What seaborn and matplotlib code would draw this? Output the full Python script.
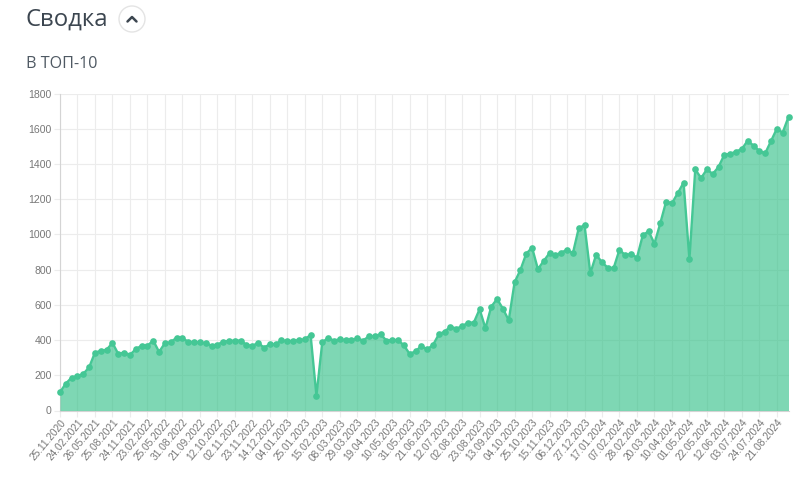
"""
Сводка: number of keywords in the TOP-10, area chart
"""

import matplotlib
matplotlib.use("Agg")
import matplotlib.pyplot as plt
from matplotlib.lines import Line2D
from matplotlib.patches import Circle
import numpy as np
import pandas as pd
import seaborn as sns

# every third point carries a date label on the axis
tick_labels = [
    "25.11.2020", "24.02.2021", "26.05.2021", "25.08.2021", "24.11.2021", "23.02.2022",
    "25.05.2022", "31.08.2022", "21.09.2022", "12.10.2022", "02.11.2022", "23.11.2022",
    "14.12.2022", "04.01.2023", "25.01.2023", "15.02.2023", "08.03.2023", "29.03.2023",
    "19.04.2023", "10.05.2023", "31.05.2023", "21.06.2023", "12.07.2023", "02.08.2023",
    "23.08.2023", "13.09.2023", "04.10.2023", "25.10.2023", "15.11.2023", "06.12.2023",
    "27.12.2023", "17.01.2024", "07.02.2024", "28.02.2024", "20.03.2024", "10.04.2024",
    "01.05.2024", "22.05.2024", "12.06.2024", "03.07.2024", "24.07.2024", "21.08.2024",
]

top10 = [
    104, 153, 187, 195, 208, 245, 329, 338, 345, 384, 321, 329,
    316, 348, 368, 368, 397, 333, 382, 387, 414, 410, 391, 387,
    387, 382, 368, 374, 391, 395, 397, 397, 372, 367, 384, 357,
    376, 376, 398, 395, 395, 400, 404, 429, 84, 387, 412, 397,
    404, 400, 400, 410, 397, 421, 421, 434, 397, 400, 400, 370,
    321, 336, 366, 347, 372, 432, 448, 476, 465, 478, 499, 499,
    575, 467, 590, 633, 578, 512, 728, 798, 890, 925, 803, 849,
    894, 883, 896, 913, 892, 1034, 1053, 779, 885, 841, 811, 809,
    913, 881, 890, 868, 995, 1018, 947, 1063, 1186, 1177, 1234, 1294,
    858, 1369, 1320, 1369, 1343, 1383, 1453, 1457, 1470, 1485, 1532, 1504,
    1474, 1460, 1530, 1600, 1578, 1667,
]

y_ticks = list(range(0, 1801, 200))

LINE_COLOR = "#45c795"
FILL_COLOR = "#2fbf86"
TEXT_COLOR = "#777777"
GRID_COLOR = "#ececec"

sns.set_theme(style="white")
plt.rcParams["font.family"] = ["Liberation Sans", "DejaVu Sans"]

df = pd.DataFrame({"point": np.arange(len(top10)), "value": top10})

W, H = 810, 478
fig = plt.figure(figsize=(W / 100, H / 100), dpi=100, facecolor="white")
ax = fig.add_axes([60 / W, 1 - 410.5 / H, 728.5 / W, 317 / H])

ax.fill_between(df["point"], df["value"], 0, color=FILL_COLOR, alpha=0.62, lw=0, zorder=3)
sns.lineplot(data=df, x="point", y="value", ax=ax, color=LINE_COLOR, linewidth=1.7,
             marker="o", markersize=4.8, markeredgewidth=0, zorder=4, clip_on=False)

ax.set_xlim(0, len(top10) - 1)
ax.set_ylim(0, 1800)
ax.set_xlabel("")
ax.set_ylabel("")

ax.set_xticks(np.arange(len(tick_labels)) * 3)
ax.set_xticklabels(tick_labels, rotation=50, ha="right", rotation_mode="anchor",
                   fontsize=7.3, color=TEXT_COLOR)
ax.set_yticks(y_ticks)
ax.set_yticklabels([str(v) for v in y_ticks], fontsize=7.6, color=TEXT_COLOR)
ax.tick_params(axis="x", length=4, width=0.8, color=GRID_COLOR, pad=1, bottom=True)
ax.tick_params(axis="y", length=4, width=0.8, color=GRID_COLOR, pad=2, left=True)

ax.grid(True, color=GRID_COLOR, linewidth=0.8, zorder=1)
ax.set_axisbelow(True)
for side, spine in ax.spines.items():
    if side in ("left", "bottom"):
        spine.set_color("#d4d4d4")
        spine.set_linewidth(0.8)
    else:
        spine.set_visible(False)

# page header above the chart
fig.text(25.5 / W, 1 - 19.5 / H, "Сводка", family="Open Sans", fontsize=17.2,
         color="#3c4650", va="center", ha="left")
fig.text(26 / W, 1 - 64 / H, "В ТОП-10", family="Open Sans", fontsize=11.6,
         color="#4f5963", va="center", ha="left")

# collapse button next to the heading
overlay = fig.add_axes([0, 0, 1, 1], facecolor="none")
overlay.set_xlim(0, W)
overlay.set_ylim(H, 0)
overlay.axis("off")
overlay.add_patch(Circle((132, 19), 13, facecolor="white", edgecolor="#e4e4e4", linewidth=1))
overlay.add_line(Line2D([127.5, 132, 136.5], [21.5, 17, 21.5], color="#3c4650", linewidth=1.8))

fig.savefig("out.png", dpi=100)
